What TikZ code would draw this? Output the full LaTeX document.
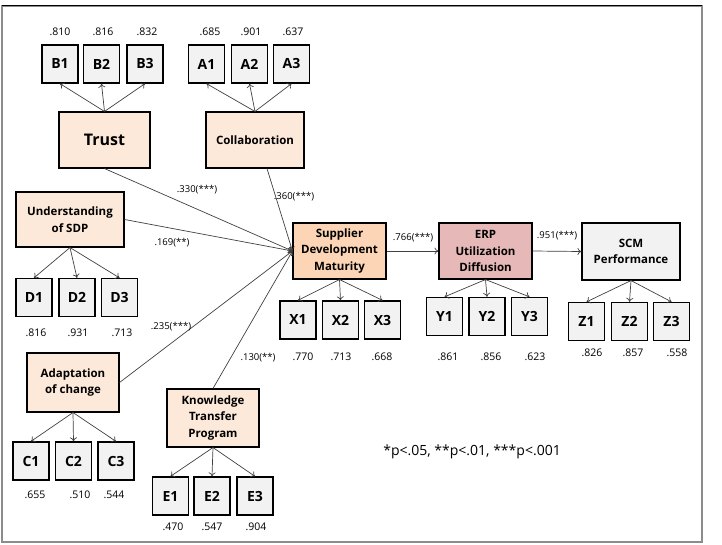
\documentclass[tikz,border=0pt]{standalone}
\usepackage{fontspec}
\setmainfont{Open Sans}
\usetikzlibrary{arrows.meta}
\definecolor{peach}{HTML}{FDE9D9}
\definecolor{sdmc}{HTML}{FBD5B5}
\definecolor{erpc}{HTML}{E6B9B8}
\definecolor{grayf}{HTML}{F2F2F2}
\definecolor{linec}{HTML}{404040}
\tikzset{
  lat/.style={draw=black, line width=1.1pt, fill=peach, align=center,
    font=\fontsize{11.5}{16.5}\selectfont\bfseries, inner sep=1pt},
  obs/.style={draw=black, line width=1.3pt, fill=grayf, minimum width=36pt, minimum height=38pt,
    font=\fontsize{14}{16}\selectfont\bfseries, inner sep=0pt},
  val/.style={font=\fontsize{10.5}{12}\selectfont, inner sep=0pt},
  coef/.style={font=\fontsize{9.5}{11}\selectfont, inner sep=0pt},
  arr/.style={draw=linec, line width=0.7pt, -{To[length=4pt,width=7pt]}},
}
\begin{document}
\begin{tikzpicture}[x=1pt,y=-1pt]
\useasboundingbox (0,0) rectangle (722,545);
\draw[draw=gray!90, line width=1.6pt] (2,6) rectangle (702,542);
\draw[black, line width=1pt] (2,6) -- (702,6);

% latent variables
\node[lat, minimum width=91pt, minimum height=56pt, font=\fontsize{16}{20}\selectfont\bfseries] (trust) at (104.5,140) {Trust};
\node[lat, minimum width=98pt, minimum height=56pt] (coll) at (255,140) {Collaboration};
\node[lat, minimum width=108pt, minimum height=55pt] (usdp) at (70,219.5) {Understanding\\of SDP};
\node[lat, minimum width=92pt, minimum height=59pt] (adapt) at (73,382.5) {Adaptation\\of change};
\node[lat, minimum width=92pt, minimum height=58pt] (ktp) at (213,418) {Knowledge\\Transfer\\Program};
\node[lat, fill=sdmc, minimum width=93pt, minimum height=56pt] (sdm) at (339.5,251) {Supplier\\Development\\Maturity};
\node[lat, fill=erpc, minimum width=93pt, minimum height=56pt] (erp) at (485.5,251) {ERP\\Utilization\\Diffusion};
\node[lat, fill=grayf, minimum width=98pt, minimum height=57pt] (scm) at (631,251.5) {SCM\\Performance};

% indicators
\node[obs] (b1) at (60,64) {B1};
\node[obs] (b2) at (101.5,64) {B2};
\node[obs] (b3) at (145,64) {B3};
\node[obs] (a1) at (206.5,64) {A1};
\node[obs] (a2) at (249.5,64) {A2};
\node[obs] (a3) at (291.5,64) {A3};
\node[obs] (d1) at (34,297.5) {D1};
\node[obs] (d2) at (77,297.5) {D2};
\node[obs] (d3) at (119.5,297.5) {D3};
\node[obs] (c1) at (31,461) {C1};
\node[obs] (c2) at (73.5,461) {C2};
\node[obs] (c3) at (116,461) {C3};
\node[obs] (e1) at (170.5,496) {E1};
\node[obs] (e2) at (212,496) {E2};
\node[obs] (e3) at (255,496) {E3};
\node[obs] (x1) at (298,320) {X1};
\node[obs] (x2) at (340.5,320) {X2};
\node[obs] (x3) at (382.5,320) {X3};
\node[obs] (y1) at (444.5,316.5) {Y1};
\node[obs] (y2) at (487,316.5) {Y2};
\node[obs] (y3) at (529.5,316.5) {Y3};
\node[obs] (z1) at (586.5,321.5) {Z1};
\node[obs] (z2) at (629.5,321.5) {Z2};
\node[obs] (z3) at (671.5,321.5) {Z3};

% loadings
\node[val] (vb1) at (60,32) {.810};
\node[val] (vb2) at (103,32) {.816};
\node[val] (vb3) at (147,32) {.832};
\node[val] (va1) at (210,32) {.685};
\node[val] (va2) at (251,32) {.901};
\node[val] (va3) at (293,32) {.637};
\node[val] (vd1) at (36,333) {.816};
\node[val] (vd2) at (78,333) {.931};
\node[val] (vd3) at (122,333) {.713};
\node[val] (vc1) at (35,495) {.655};
\node[val] (vc2) at (80,495) {.510};
\node[val] (vc3) at (114,495) {.544};
\node[val] (ve1) at (173,527) {.470};
\node[val] (ve2) at (212,527) {.547};
\node[val] (ve3) at (256,527) {.904};
\node[val] (vx1) at (303,357) {.770};
\node[val] (vx2) at (341,357) {.713};
\node[val] (vx3) at (382,357) {.668};
\node[val] (vy1) at (448,357) {.861};
\node[val] (vy2) at (491,357) {.856};
\node[val] (vy3) at (535,357) {.623};
\node[val] (vz1) at (592,353) {.826};
\node[val] (vz2) at (633,353) {.857};
\node[val] (vz3) at (677,353) {.558};

% measurement arrows
\foreach \l/\i in {trust/b, coll/a} {
  \foreach \k in {1,2,3} \draw[arr] (\l.north) -- (\i\k.south);
}
\foreach \l/\i in {usdp/d, adapt/c, ktp/e, sdm/x, erp/y, scm/z} {
  \foreach \k in {1,2,3} \draw[arr] (\l.south) -- (\i\k.north);
}

% structural paths
\draw[arr] (trust.south) -- (sdm.west);
\draw[arr] ([xshift=12pt]coll.south) -- (sdm.west);
\draw[arr] (usdp.east) -- (sdm.west);
\draw[arr] (adapt.east) -- (sdm.west);
\draw[arr] (ktp.north) -- (sdm.west);
\draw[arr] (sdm.east) -- (erp.west);
\draw[arr] (erp.east) -- (scm.west);

\node[coef] (p1) at (197,190) {.330(***)};
\node[coef] (p2) at (294,197) {.360(***)};
\node[coef] (p3) at (172,243) {.169(**)};
\node[coef] (p4) at (171,327) {.235(***)};
\node[coef] (p5) at (258,358) {.130(**)};
\node[coef] (p6) at (413,238) {.766(***)};
\node[coef] (p7) at (557,236) {.951(***)};

\node[font=\fontsize{14}{17}\selectfont, inner sep=0pt] (legend) at (472,452) {*p<.05, **p<.01, ***p<.001};
\end{tikzpicture}
\end{document}
